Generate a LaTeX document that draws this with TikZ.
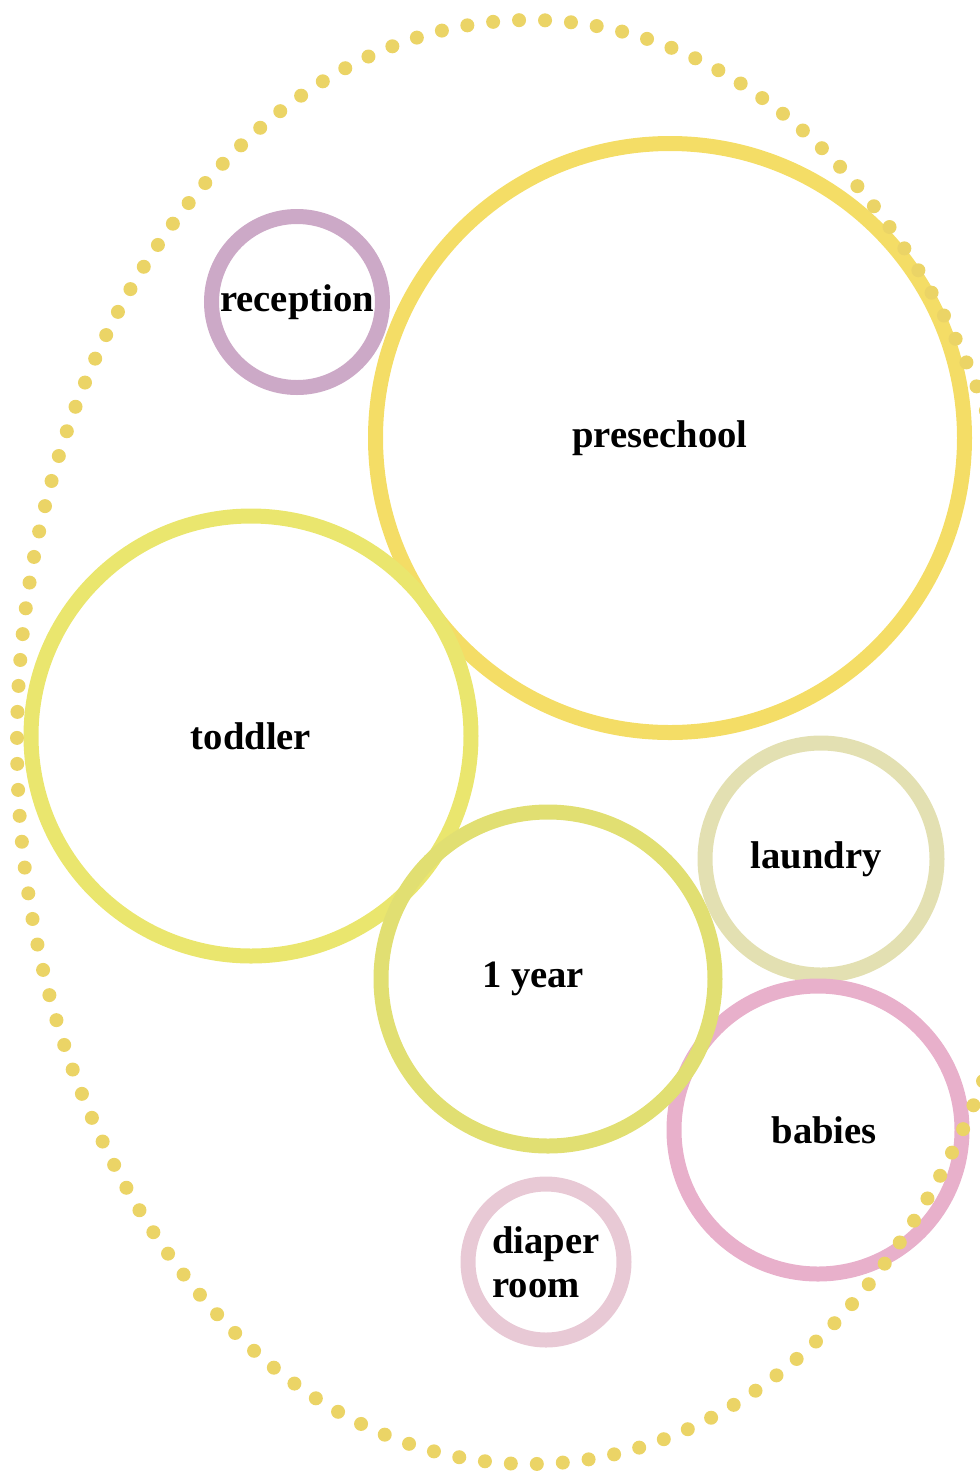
\documentclass[tikz,border=0pt]{standalone}
\usepackage{fontspec}
\setmainfont{Liberation Serif}

\definecolor{presechoolc}{HTML}{F4DD66}
\definecolor{toddlerc}{HTML}{EAE66E}
\definecolor{yearc}{HTML}{E1DF72}
\definecolor{babiesc}{HTML}{E8B0CB}
\definecolor{laundryc}{HTML}{E3E0B2}
\definecolor{diaperc}{HTML}{E8C9D5}
\definecolor{receptionc}{HTML}{CCA9C7}
\definecolor{dotc}{HTML}{EBD466}

\tikzset{
	room/.style={draw, circle, line width=0.3cm, inner sep=0pt,
		font=\fontsize{22}{25}\selectfont\bfseries, align=left},
}

\begin{document}
\begin{tikzpicture}
		\useasboundingbox (0,0) rectangle (19.6,-29.46);
		
		\node[room, draw=presechoolc, minimum size=11.78cm] (presechool) at (13.4,-8.76) {presechool\hspace{0.4cm}};
		\node[room, draw=receptionc, minimum size=3.42cm] (reception) at (5.94,-6.04) {reception};
		\node[room, draw=toddlerc, minimum size=8.8cm] (toddler) at (5.02,-14.72) {toddler};
		\node[room, draw=laundryc, minimum size=4.64cm] (laundry) at (16.42,-17.18) {laundry\hspace{0.2cm}};
		\node[room, draw=babiesc, minimum size=5.76cm] (babies) at (16.36,-22.6) {\hspace{0.25cm}babies};
		\node[room, draw=yearc, minimum size=6.68cm] (year) at (10.96,-19.58) {1 year\hspace{0.6cm}};
		\node[room, draw=diaperc, minimum size=3.12cm] (diaper) at (10.92,-25.24) {diaper\\room};
		
		\draw[dotc, line width=0.28cm, line cap=round, dash pattern=on 0pt off 0.52cm]
			(10.6,-14.84) ellipse [x radius=10.26cm, y radius=14.44cm];
		
	\end{tikzpicture}
\end{document}
